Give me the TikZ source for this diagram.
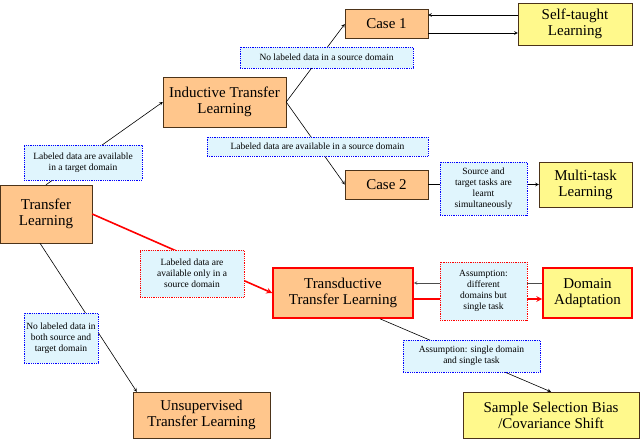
\documentclass[tikz,border=0pt]{standalone}
\usepackage{fontspec}
\setmainfont{Liberation Serif}
\begin{document}
\begin{tikzpicture}[x=1pt,y=-1pt,
 box/.style={draw=black!60!brown,fill=orange!45,align=center,font=\fontsize{15}{16}\selectfont,inner sep=0pt},
 ybox/.style={box,fill=yellow!45},
 redb/.style={draw=red,line width=1.6pt},
 lab/.style={draw=blue,densely dotted,thick,fill=cyan!12,align=center,font=\fontsize{9.5}{11}\selectfont,inner sep=1pt},
 rlab/.style={lab,draw=red},
 arr/.style={->,>=stealth,draw=black,semithick},
 rarr/.style={->,>=stealth,draw=red,line width=1.6pt}]
\path[use as bounding box] (0,0) rectangle (640,440);
\node[box,minimum width=92pt,minimum height=58pt] (tl) at (46,214) {Transfer\\Learning};
\node[box,minimum width=123pt,minimum height=50pt] (itl) at (224.5,102) {Inductive Transfer\\Learning};
\node[box,minimum width=83pt,minimum height=29pt] (c1) at (386.5,24) {Case 1};
\node[ybox,minimum width=114pt,minimum height=42pt] (stl) at (575,24) {Self-taught\\Learning};
\node[box,minimum width=83pt,minimum height=29pt] (c2) at (386.5,184.5) {Case 2};
\node[ybox,minimum width=93pt,minimum height=45pt] (mtl) at (585.5,184.5) {Multi-task\\Learning};
\node[box,redb,minimum width=140pt,minimum height=50pt] (tdl) at (343,293) {Transductive\\Transfer Learning};
\node[ybox,redb,minimum width=89pt,minimum height=50pt] (da) at (587.5,293) {Domain\\Adaptation};
\node[ybox,minimum width=176pt,minimum height=46pt] (ssb) at (551,415) {Sample Selection Bias\\/Covariance Shift};
\node[box,minimum width=137pt,minimum height=46pt] (usl) at (201.5,415) {Unsupervised\\Transfer Learning};

\draw[arr] (tl.north) -- (itl.west);
\draw[arr] (itl.east) -- (c1.west);
\draw[arr] (itl.east) -- (c2.west);
\draw[arr] ([yshift=-9pt]c1.east) -- ([yshift=-9pt]stl.west);
\draw[arr] ([yshift=9pt]stl.west) -- ([yshift=9pt]c1.east);
\draw[arr] (c2.east) -- (mtl.west);
\draw[rarr] (tl.east) -- (tdl.west);
\draw[rarr] ([yshift=-6pt]tdl.east) -- ([yshift=-6pt]da.west);
\draw[arr,draw=black!70] ([yshift=10pt]da.west) -- ([yshift=10pt]tdl.east);
\draw[arr] ([xshift=37pt]tdl.south) -- (ssb.north);
\draw[arr] ([xshift=-6pt]tl.south) -- ([xshift=4pt]usl.north west);

\node[lab,minimum width=173pt,minimum height=21pt] (l1) at (326.5,57.5) {No labeled data in a source domain};
\node[lab,minimum width=118pt,minimum height=35pt] (l2) at (83,162.5) {Labeled data are available\\in a target domain};
\node[lab,minimum width=221pt,minimum height=19pt] (l3) at (317.5,146.5) {Labeled data are available in a source domain};
\node[lab,minimum width=87pt,minimum height=53pt] (l4) at (483.5,188.5) {Source and\\target tasks are\\learnt\\simultaneously};
\node[rlab,minimum width=104pt,minimum height=47pt] (l5) at (192,273.5) {Labeled data are\\available only in a\\source domain};
\node[rlab,minimum width=87pt,minimum height=58pt] (l6) at (483.5,291) {Assumption:\\different\\domains but\\single task};
\node[lab,minimum width=74pt,minimum height=50pt] (l7) at (61,338) {No labeled data in\\both source and\\target domain};
\node[lab,minimum width=137pt,minimum height=32pt] (l8) at (471.5,356) {Assumption: single domain\\and single task};
\end{tikzpicture}
\end{document}
